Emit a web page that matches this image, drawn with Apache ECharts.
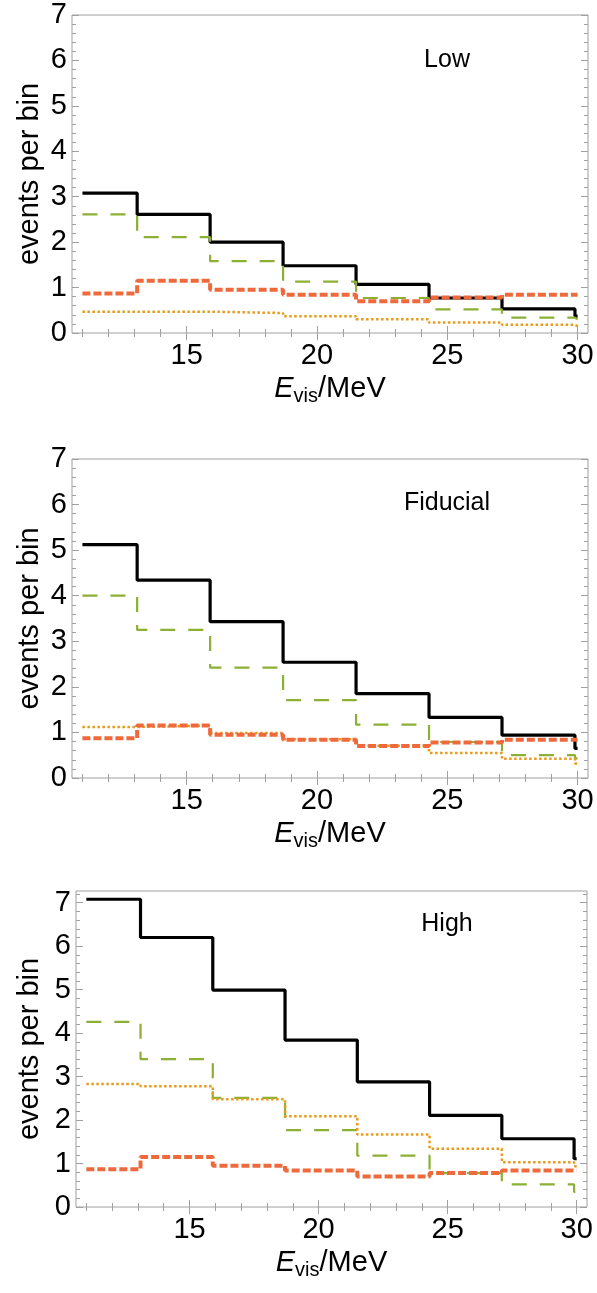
<!DOCTYPE html>
<html>
<head>
<meta charset="utf-8">
<script src="https://cdn.jsdelivr.net/npm/echarts@6/dist/echarts.min.js"></script>
<style>
html, body { margin: 0; padding: 0; background: #fff; }
#chart { width: 597px; height: 1293px; }
</style>
</head>
<body>
<div id="chart"></div>
<script>
'use strict';
// bin edges in MeV (last short bin runs to 30)
var binEdges = [11, 13.1, 15.9, 18.7, 21.5, 24.3, 27.1, 29.9, 30];

var panelNames = ['Low', 'Fiducial', 'High'];

// Low
var lowTotal = [3.08, 2.61, 2.00, 1.48, 1.07, 0.77, 0.53, 0.37];
var lowGreen = [2.61, 2.11, 1.58, 1.13, 0.77, 0.52, 0.34, 0.30];
var lowOrange = [0.47, 0.47, 0.44, 0.37, 0.30, 0.23, 0.18, 0.15];
var lowRed = [0.87, 1.15, 0.95, 0.84, 0.70, 0.78, 0.84, 0.84];

// Fiducial
var fidTotal = [5.12, 4.34, 3.43, 2.54, 1.85, 1.33, 0.94, 0.65];
var fidGreen = [4.00, 3.25, 2.42, 1.71, 1.17, 0.79, 0.50, 0.43];
var fidOrange = [1.12, 1.15, 0.99, 0.85, 0.71, 0.55, 0.42, 0.32];
var fidRed = [0.87, 1.15, 0.95, 0.84, 0.70, 0.78, 0.84, 0.84];

// High
var highTotal = [7.08, 6.20, 4.99, 3.84, 2.88, 2.11, 1.57, 1.11];
var highGreen = [4.26, 3.40, 2.51, 1.77, 1.18, 0.78, 0.52, 0.35];
var highOrange = [2.83, 2.78, 2.48, 2.09, 1.67, 1.34, 1.03, 0.94];
var highRed = [0.87, 1.15, 0.95, 0.84, 0.70, 0.78, 0.84, 0.84];

var xTickLabels = [15, 20, 25, 30];
var yTickLabels = [0, 1, 2, 3, 4, 5, 6, 7];
var yMaxes = [7, 7, 7.27];

var xMinorTicks = [];
for (var t = 11; t <= 30; t++) xMinorTicks.push(t);
var yMinorTicks = [];
for (var m = 1; m <= 36; m++) yMinorTicks.push(Math.round(m * 2) / 10);

var font = 'Liberation Sans, Arial, Helvetica, sans-serif';
var frameColor = '#a0a0a0';

var grids = [
	{ left: 72, top: 15, width: 516, height: 318 },
	{ left: 72, top: 459, width: 516, height: 319 },
	{ left: 76, top: 891, width: 511, height: 316 }
];
var labelPos = [[447, 60], [447, 503], [447, 924]];

var panelData = [
	[lowTotal, lowGreen, lowOrange, lowRed],
	[fidTotal, fidGreen, fidOrange, fidRed],
	[highTotal, highGreen, highOrange, highRed]
];

var styles = [
	{ color: '#000', width: 3.2, type: 'solid' },
	{ color: '#8cb034', width: 2.2, type: [15, 13] },
	{ color: '#e99a1c', width: 2.5, type: [2.5, 2.5] },
	{ color: '#ee6a3c', width: 4, type: [8, 3] }
];

function toSteps(vals) {
	var pts = [];
	for (var k = 0; k < binEdges.length; k++) {
		pts.push([binEdges[k], vals[Math.min(k, vals.length - 1)]]);
	}
	return pts;
}

function xAxes(i) {
	var list = [];
	['bottom', 'top'].forEach(function(pos) {
		var isBottom = pos == 'bottom';
		list.push({
			gridIndex: i, type: 'value', min: 10.6, max: 30.4, position: pos,
			axisLine: { show: false }, splitLine: { show: false },
			axisTick: { inside: true, length: 7, customValues: xTickLabels, lineStyle: { color: frameColor } },
			axisLabel: { show: isBottom, customValues: xTickLabels, fontSize: 29, color: '#000', fontFamily: font, margin: 8 },
			name: isBottom ? '{i|E}{s|vis}/MeV' : '',
			nameLocation: 'middle', nameGap: 39,
			nameTextStyle: {
				fontSize: 29, color: '#000', fontFamily: font, lineHeight: 34,
				rich: {
					i: { fontStyle: 'italic', fontSize: 29, fontFamily: font, color: '#000', lineHeight: 34 },
					s: { fontSize: 20, fontFamily: font, color: '#000', lineHeight: 19, verticalAlign: 'bottom' }
				}
			}
		});
		list.push({
			gridIndex: i, type: 'value', min: 10.6, max: 30.4, position: pos,
			axisLine: { show: false }, splitLine: { show: false },
			axisTick: { inside: true, length: 4, customValues: xMinorTicks, lineStyle: { color: frameColor } },
			axisLabel: { show: false }
		});
	});
	return list;
}

function yAxes(i) {
	var list = [];
	['left', 'right'].forEach(function(pos) {
		var isLeft = pos == 'left';
		list.push({
			gridIndex: i, type: 'value', min: 0, max: yMaxes[i], position: pos,
			axisLine: { show: false }, splitLine: { show: false },
			axisTick: { inside: true, length: 7, customValues: yTickLabels, lineStyle: { color: frameColor } },
			axisLabel: { show: isLeft, customValues: yTickLabels, fontSize: 29, color: '#000', fontFamily: font, margin: 5 }
		});
		list.push({
			gridIndex: i, type: 'value', min: 0, max: yMaxes[i], position: pos,
			axisLine: { show: false }, splitLine: { show: false },
			axisTick: { inside: true, length: 4, customValues: yMinorTicks, lineStyle: { color: frameColor } },
			axisLabel: { show: false }
		});
	});
	return list;
}

var option = {
	animation: false,
	backgroundColor: '#fff',
	grid: [],
	xAxis: [],
	yAxis: [],
	series: [],
	graphic: []
};

for (var i = 0; i < 3; i++) {
	var g = grids[i];
	option.grid.push({ left: g.left, top: g.top, width: g.width, height: g.height, show: true, borderColor: frameColor, borderWidth: 1 });
	option.xAxis = option.xAxis.concat(xAxes(i));
	option.yAxis = option.yAxis.concat(yAxes(i));
	for (var s = 0; s < 4; s++) {
		option.series.push({
			type: 'line', step: 'end', symbol: 'none',
			xAxisIndex: i * 4, yAxisIndex: i * 4,
			data: toSteps(panelData[i][s]),
			lineStyle: { color: styles[s].color, width: styles[s].width, type: styles[s].type, cap: 'butt' },
			z: 2 + s
		});
	}
	option.graphic.push({
		type: 'text', x: labelPos[i][0], y: labelPos[i][1],
		style: { text: panelNames[i], fontSize: 25, fontFamily: font, fill: '#000', align: 'center', verticalAlign: 'middle' }
	});
	// y axis title
	option.graphic.push({
		type: 'text', x: 30, y: g.top + g.height / 2, rotation: Math.PI / 2,
		style: { text: 'events per bin', fontSize: 29, fontFamily: font, fill: '#000', align: 'center', verticalAlign: 'middle' }
	});
}

var myChart = echarts.init(document.getElementById('chart'), null, { renderer: 'canvas' });
myChart.setOption(option);
</script>
</body>
</html>
